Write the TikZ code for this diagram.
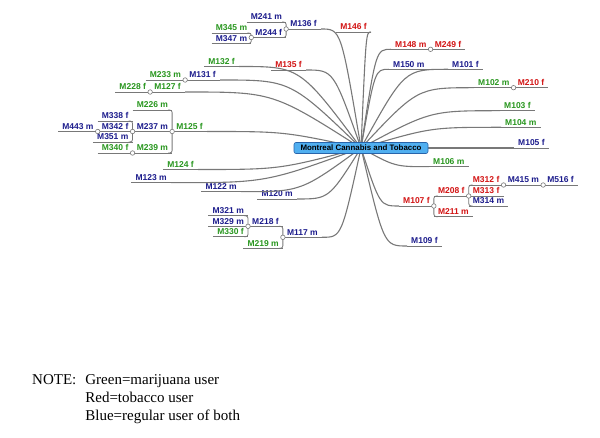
\documentclass[tikz,border=0pt]{standalone}
\usepackage{fontspec}
\setmainfont{Liberation Serif}
\newfontfamily\mapfont{Liberation Sans}
\usetikzlibrary{calc}

\definecolor{mapblue}{RGB}{28,28,140}
\definecolor{mapgreen}{RGB}{40,150,30}
\definecolor{mapred}{RGB}{210,20,20}
\definecolor{linegray}{RGB}{120,120,120}
\definecolor{hubfill}{RGB}{80,175,240}
\definecolor{hubdraw}{RGB}{40,100,170}

\begin{document}
\begin{tikzpicture}[x=1pt, y=-1pt,
    topic/.style={font=\fontsize{8.5}{9}\selectfont\mapfont\bfseries, inner xsep=4pt, inner ysep=1.8pt, text height=6pt, text depth=0pt},
    lt/.style={topic, anchor=south east},
    rt/.style={topic, anchor=south west},
    weed/.style={text=mapgreen},
    tobac/.style={text=mapred},
    both/.style={text=mapblue},
    branch/.style={draw=linegray, line width=1.1pt},
    uline/.style={draw=linegray, line width=0.8pt},
    knob/.style={circle, draw=linegray, fill=white, line width=0.6pt, inner sep=0pt, minimum size=4.5pt},
    hubbox/.style={draw=hubdraw, fill=hubfill, rounded corners=2pt, line width=0.6pt, font=\fontsize{7.9}{9}\selectfont\mapfont\bfseries, minimum width=134pt, minimum height=11pt, inner sep=0pt}]

    \useasboundingbox (0,0) rectangle (600,438);

    % --- Centre ---
    \coordinate (hub) at (361,148);

    % --- Left side topics ---
    \node[lt, tobac] (m146) at (371,32) {M146 f};
    \node[lt, tobac] (m135) at (306,70) {M135 f};
    \node[lt, both] (m136) at (321,29) {M136 f};
    \node[lt, both] (m241) at ($(m136.south west)+(0,-7)$) {M241 m};
    \node[lt, both] (m244) at ($(m136.south west)+(0,8.5)$) {M244 f};
    \node[lt, weed] (m345) at ($(m244.south west)+(0,-4.5)$) {M345 m};
    \node[lt, both] (m347) at ($(m244.south west)+(0,6)$) {M347 m};
    \node[lt, weed] (m132) at (239,66.5) {M132 f};
    \node[lt, both] (m131) at (220,80) {M131 f};
    \node[lt, weed] (m233) at (m131.south west) {M233 m};
    \node[lt, weed] (m127) at (185,92) {M127 f};
    \node[lt, weed] (m228) at (m127.south west) {M228 f};
    \node[lt, weed] (m125) at (207,131.5) {M125 f};
    \node[lt, weed] (m226) at ($(m125.south west)+(0,-21.5)$) {M226 m};
    \node[lt, both] (m237) at (m125.south west) {M237 m};
    \node[lt, weed] (m239) at ($(m125.south west)+(0,21.5)$) {M239 m};
    \node[lt, both] (m338) at ($(m237.south west)+(0,-10.5)$) {M338 f};
    \node[lt, both] (m342) at (m237.south west) {M342 f};
    \node[lt, both] (m351) at ($(m237.south west)+(0,10.5)$) {M351 m};
    \node[lt, both] (m443) at (m342.south west) {M443 m};
    \node[lt, weed] (m340) at (m239.south west) {M340 f};
    \node[lt, weed] (m124) at (198,169.5) {M124 f};
    \node[lt, both] (m123) at (171,182.7) {M123 m};
    \node[lt, both] (m122) at (241,191.7) {M122 m};
    \node[lt, both] (m120) at (297,199) {M120 m};
    \node[lt, both] (m117) at (322,237.3) {M117 m};
    \node[lt, both] (m218) at ($(m117.south west)+(0,-11)$) {M218 f};
    \node[lt, weed] (m219) at ($(m117.south west)+(0,11)$) {M219 m};
    \node[lt, both] (m321) at ($(m218.south west)+(0,-10.5)$) {M321 m};
    \node[lt, both] (m329) at (m218.south west) {M329 m};
    \node[lt, weed] (m330) at ($(m218.south west)+(0,10.5)$) {M330 f};

    % --- Right side topics ---
    \node[rt, tobac] (m148) at (391,49.3) {M148 m};
    \node[rt, tobac] (m249) at (m148.south east) {M249 f};
    \node[rt, both] (m150) at (389,69.3) {M150 m};
    \node[rt, both] (m101) at (448,69.3) {M101 f};
    \node[rt, weed] (m102) at (474,87.7) {M102 m};
    \node[rt, tobac] (m210) at (m102.south east) {M210 f};
    \node[rt, weed] (m103) at (500,110.7) {M103 f};
    \node[rt, weed] (m104) at (501,127.3) {M104 m};
    \node[rt, both] (m105) at (514,148) {M105 f};
    \node[rt, weed] (m106) at (429,166.7) {M106 m};
    \node[rt, tobac] (m107) at (399,206) {M107 f};
    \node[rt, tobac] (m208) at ($(m107.south east)+(0,-10)$) {M208 f};
    \node[rt, tobac] (m211) at ($(m107.south east)+(0,10.7)$) {M211 m};
    \node[rt, tobac] (m312) at ($(m208.south east)+(0,-11)$) {M312 f};
    \node[rt, tobac] (m313) at (m208.south east) {M313 f};
    \node[rt, both] (m314) at ($(m208.south east)+(0,10)$) {M314 m};
    \node[rt, both] (m415) at (m312.south east) {M415 m};
    \node[rt, both] (m516) at (m415.south east) {M516 f};
    \node[rt, both] (m109) at (407,246) {M109 f};

    % --- Underlines ---
    \foreach \n in {m146,m135,m136,m241,m244,m345,m347,m132,m131,m233,m127,m228,m125,m226,m237,m239,m338,m342,m351,m443,m340,m124,m123,m122,m120,m117,m218,m219,m321,m329,m330,m148,m249,m150,m101,m102,m210,m103,m104,m105,m106,m107,m208,m211,m312,m313,m314,m415,m516,m109}
        \draw[uline] (\n.south west) -- (\n.south east);

    % --- Branches to the centre ---
    \foreach \n in {m146,m135,m136,m132,m131,m127,m125,m124,m123,m122,m120,m117}
        \draw[branch] (\n.south east) .. controls ($(\n.south east)!0.5!(hub |- \n.south east)$) .. (hub);
    \foreach \n in {m148,m150,m101,m102,m103,m104,m105,m106,m107,m109}
        \draw[branch] (hub) .. controls ($(\n.south west)!0.5!(hub |- \n.south west)$) .. (\n.south west);

    % --- Brackets ---
    \draw[uline, rounded corners=2.5pt] ([xshift=-4pt]m241.south east) -| (m136.south west) |- ([xshift=-4pt]m244.south east);
    \draw[uline, rounded corners=2.5pt] ([xshift=-4pt]m345.south east) -| (m244.south west) |- ([xshift=-4pt]m347.south east);
    \draw[uline, rounded corners=2.5pt] ([xshift=-4pt]m226.south east) -| (m125.south west) |- ([xshift=-4pt]m239.south east);
    \draw[uline, rounded corners=2.5pt] ([xshift=-4pt]m338.south east) -| (m237.south west) |- ([xshift=-4pt]m351.south east);
    \draw[uline, rounded corners=2.5pt] ([xshift=-4pt]m218.south east) -| (m117.south west) |- ([xshift=-4pt]m219.south east);
    \draw[uline, rounded corners=2.5pt] ([xshift=-4pt]m321.south east) -| (m218.south west) |- ([xshift=-4pt]m330.south east);
    \draw[uline, rounded corners=2.5pt] ([xshift=4pt]m208.south west) -| (m107.south east) |- ([xshift=4pt]m211.south west);
    \draw[uline, rounded corners=2.5pt] ([xshift=4pt]m312.south west) -| (m208.south east) |- ([xshift=4pt]m314.south west);

    % --- Knobs ---
    \foreach \n in {m136,m244,m131,m127,m125,m237,m342,m239,m117,m218}
        \node[knob] (k\n) at (\n.south west) {};
    \foreach \n in {m148,m102,m107,m208,m312,m415}
        \node[knob] (k\n) at (\n.south east) {};

    % --- Central topic ---
    \node[hubbox] (main) at (hub) {Montreal Cannabis and Tobacco};

    % --- Note ---
    \node[anchor=north west, inner sep=0pt, font=\fontsize{15}{18}\selectfont] (note) at (32,372)
        {\begin{tabular}{@{}l@{\hspace{9pt}}l@{}}NOTE: & Green=marijuana user\\ & Red=tobacco user\\ & Blue=regular user of both\end{tabular}};

\end{tikzpicture}
\end{document}
